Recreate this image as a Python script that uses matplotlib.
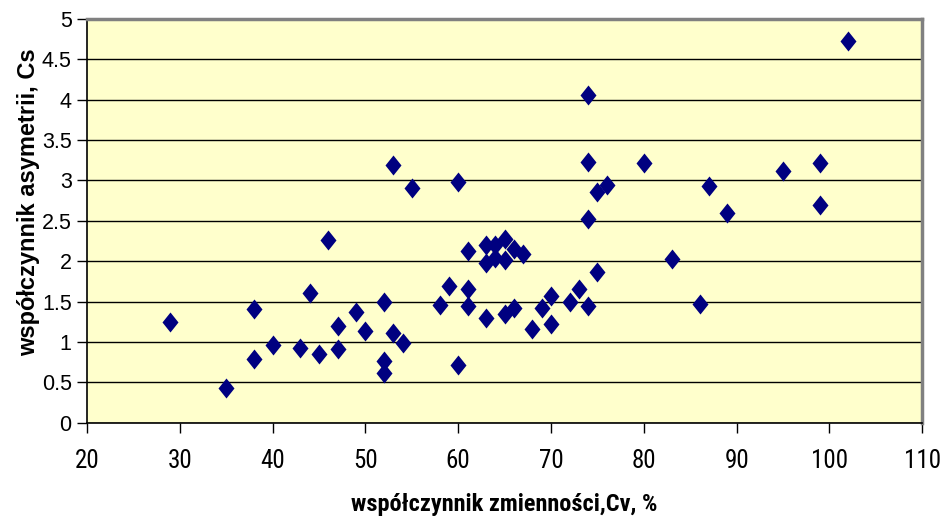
import matplotlib.pyplot as plt
import numpy as np
from matplotlib import font_manager
from matplotlib.font_manager import FontProperties

# coefficient of variation Cv (%) and skewness Cs per station
cv = [29, 35, 38, 38, 40, 43, 44, 45, 46, 47, 47, 49, 50, 52, 52, 52, 53, 53, 54, 55,
      58, 59, 60, 60, 61, 61, 61, 63, 63, 63, 64, 64, 65, 65, 65, 66, 66, 67, 68, 69,
      70, 70, 72, 73, 74, 74, 74, 74, 75, 75, 76, 80, 83, 86, 87, 89, 95, 99, 99, 102]
cs = [1.25, 0.43, 1.41, 0.79, 0.96, 0.93, 1.61, 0.85, 2.26, 1.20, 0.91, 1.37, 1.14, 1.50, 0.77, 0.62, 3.19, 1.11, 0.99, 2.90,
      1.46, 1.69, 2.98, 0.71, 2.12, 1.65, 1.44, 2.20, 1.98, 1.30, 2.20, 2.04, 2.27, 2.02, 1.35, 2.15, 1.42, 2.09, 1.16, 1.42,
      1.57, 1.22, 1.49, 1.66, 2.52, 4.06, 3.23, 1.44, 1.87, 2.85, 2.94, 3.21, 2.03, 1.47, 2.93, 2.60, 3.12, 3.22, 2.70, 4.72]

x_ticks = np.arange(20, 111, 10)
y_ticks = np.arange(0, 5.01, 0.5)
y_ticklabels = ["0", "0.5", "1", "1.5", "2", "2.5", "3", "3.5", "4", "4.5", "5"]

plt.rcParams["font.family"] = ["Liberation Sans", "DejaVu Sans"]

# look for a narrow face for the x axis texts
installed = {f.name for f in font_manager.fontManager.ttflist}
narrow_kw = None
if "Liberation Sans Narrow" in installed:
    narrow_kw = dict(family=["Liberation Sans Narrow", "DejaVu Sans"])
else:
    for fam in ["Roboto Condensed", "DejaVu Sans"]:
        path = font_manager.findfont(FontProperties(family=fam, stretch="condensed"),
                                     fallback_to_default=False)
        if "ondensed" in path:
            narrow_kw = dict(family=[fam], stretch="condensed")
            break

if narrow_kw:
    xtick_kw = dict(fontsize=18, **narrow_kw)
    xlabel_kw = dict(fontsize=17.5, **narrow_kw)
else:
    xtick_kw = dict(fontsize=16.5)
    xlabel_kw = dict(fontsize=15)

fig = plt.figure(figsize=(9.45, 5.2), dpi=100)
ax = fig.add_axes([0.092, 0.187, 0.884, 0.777])
ax.set_facecolor("#FFFFCC")

# slightly tall diamond like the spreadsheet marker
diamond = [(0, 1), (0.8, 0), (0, -1), (-0.8, 0), (0, 1)]
ax.plot(cv, cs, linestyle="none", marker=diamond, markersize=14.4,
        color="#000080", markeredgewidth=0, zorder=3)

ax.set_xlim(20, 110)
ax.set_ylim(0, 5)
ax.set_xticks(x_ticks)
ax.set_xticklabels([str(t) for t in x_ticks], **xtick_kw)
ax.set_yticks(y_ticks)
ax.set_yticklabels(y_ticklabels, fontsize=15.5)

ax.yaxis.grid(True, color="black", linewidth=1)
ax.set_axisbelow(True)

for side in ["top", "right"]:
    ax.spines[side].set_color("#808080")
    ax.spines[side].set_linewidth(2.5)
for side in ["left", "bottom"]:
    ax.spines[side].set_color("black")
    ax.spines[side].set_linewidth(1.2)

ax.tick_params(axis="both", direction="out", length=7, width=1, color="black")
ax.tick_params(axis="x", pad=12)
ax.tick_params(axis="y", pad=4)

ax.set_xlabel("współczynnik zmienności,Cv, %", fontweight="bold", labelpad=14, **xlabel_kw)
ax.set_ylabel("współczynnik asymetrii, Cs", fontsize=17, fontweight="bold")
ax.yaxis.set_label_coords(-0.056, 0.547)

plt.savefig("out.png", dpi=100)
